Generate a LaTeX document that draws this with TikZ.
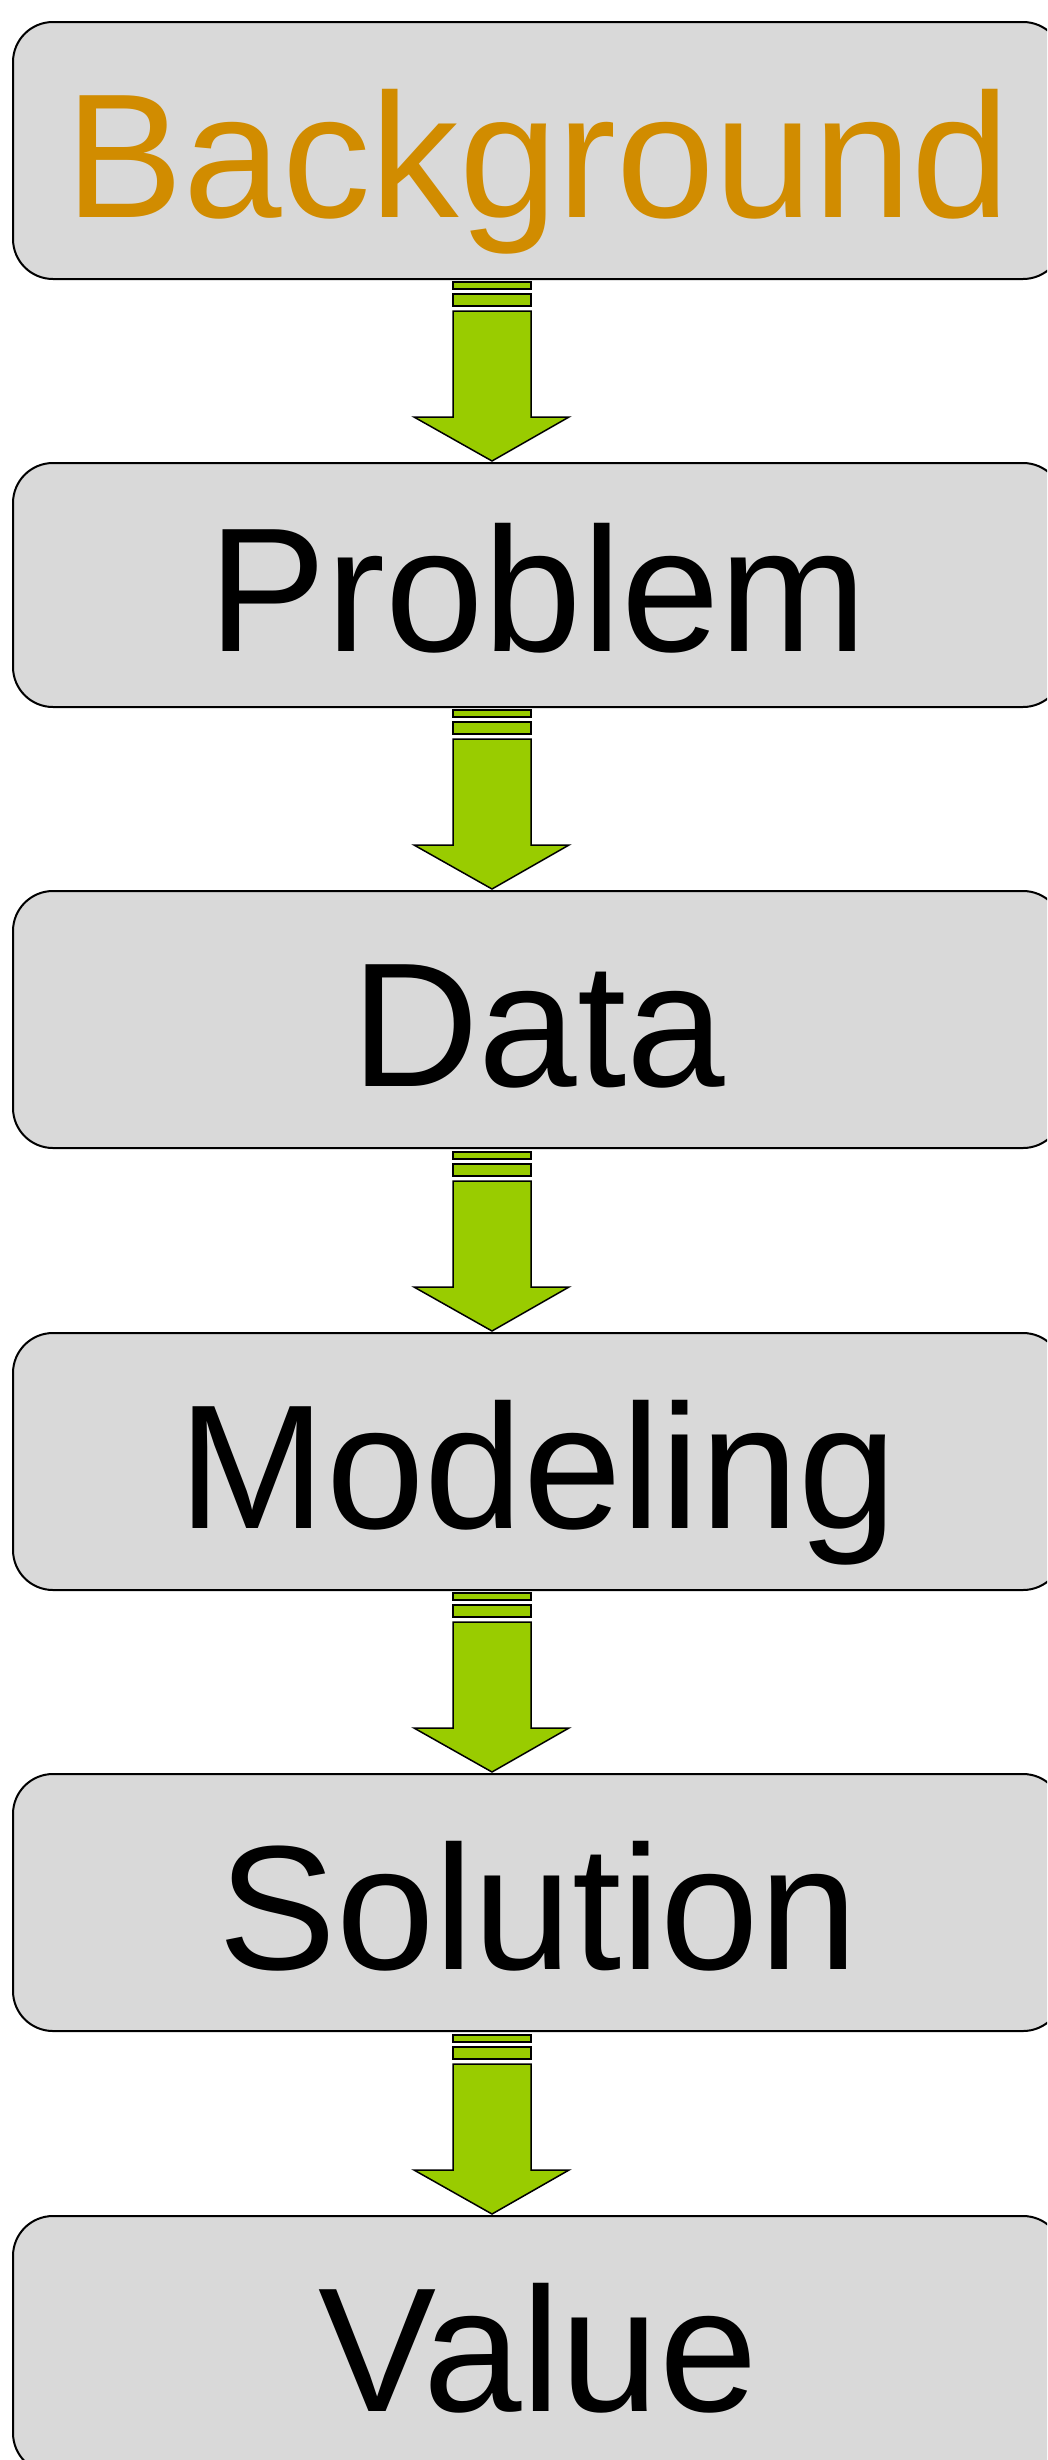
\documentclass[tikz,border=0pt]{standalone}
\usepackage{fontspec}
\setmainfont{Liberation Sans}
\usetikzlibrary{calc}
\definecolor{boxgray}{RGB}{217,217,217}
\definecolor{ochre}{RGB}{209,140,0}
\definecolor{arrowgreen}{RGB}{153,204,0}
\tikzset{
  stage/.style={draw=black, line width=2pt, fill=boxgray, rounded corners=40pt,
    minimum width=1050pt, inner sep=0pt, outer sep=0pt,
    text height=133pt, text depth=0pt, align=center,
    font=\fontsize{177}{200}\selectfont},
  blockarrow/.style={draw=black, line width=1.5pt, fill=arrowgreen, line join=miter}
}
\newcommand\downblock[1]{%
  \begin{scope}[shift={(#1.north)}]
    \filldraw[blockarrow] (-85,-181) rectangle (-7,-174);
    \filldraw[blockarrow] (-85,-169) rectangle (-7,-157);
    \filldraw[blockarrow] (-46,-2) -- (-124,-46) -- (-85,-46) -- (-85,-152)
      -- (-7,-152) -- (-7,-46) -- (31,-46) -- cycle;
  \end{scope}}
\begin{document}
\begin{tikzpicture}[x=1pt, y=-1pt]
  \useasboundingbox (0,0) rectangle (1047,2460);
  \clip (0,0) rectangle (1047,2460);
  \fill[white] (0,0) rectangle (1047,2460);
  \node[stage, minimum height=257pt, text=ochre] (bg)  at (538,150.5)  {Background};
  \node[stage, minimum height=244pt] (prob) at (538,585)    {Problem};
  \node[stage, minimum height=257pt] (data) at (538,1019.5) {Data};
  \node[stage, minimum height=257pt] (model) at (538,1461.5) {Modeling};
  \node[stage, minimum height=257pt] (sol) at (538,1902.5) {Solution};
  \node[stage, minimum height=257pt] (val) at (538,2344.5) {Value};
  \downblock{prob}
  \downblock{data}
  \downblock{model}
  \downblock{sol}
  \downblock{val}
\end{tikzpicture}
\end{document}
